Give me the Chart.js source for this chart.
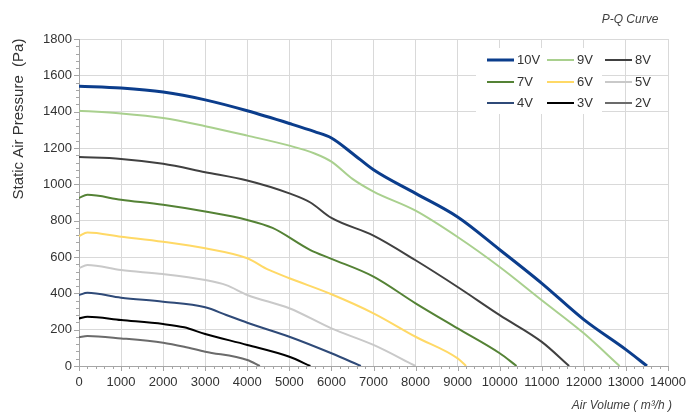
<!DOCTYPE html>
<html>
<head>
<meta charset="utf-8">
<script src="https://cdn.jsdelivr.net/npm/chart.js@4"></script>
<style>
  html, body { margin: 0; padding: 0; background: #fff; }
  #wrap { width: 700px; height: 420px; }
</style>
</head>
<body>
<div id="wrap"><canvas id="pq"></canvas></div>
<script>
// Air volume (m3/h) and static pressure (Pa) per speed setting
const q10 = [0, 1000, 2000, 3000, 4000, 5000, 5600, 6000, 6500, 7000, 8000, 9000, 10000, 11000, 12000, 13000, 13500];
const p10 = [1540, 1530, 1508, 1465, 1405, 1335, 1290, 1255, 1170, 1080, 950, 820, 640, 455, 255, 90, 0];
const q9 = [0, 1000, 2000, 3000, 4000, 5000, 5600, 6000, 6500, 7000, 8000, 9000, 10000, 11000, 12000, 12850];
const p9 = [1405, 1390, 1365, 1320, 1268, 1213, 1170, 1125, 1030, 960, 855, 710, 545, 362, 180, 0];
const q8 = [0, 1000, 2000, 3000, 4000, 5000, 5500, 6000, 7000, 8000, 9000, 10000, 11000, 11650];
const p8 = [1150, 1140, 1113, 1067, 1021, 950, 900, 815, 718, 582, 435, 280, 133, 0];
const q7 = [0, 200, 1000, 2000, 3000, 4000, 4600, 5500, 6000, 7000, 8000, 9000, 10000, 10400];
const p7 = [925, 942, 915, 887, 850, 804, 760, 638, 590, 492, 345, 207, 70, 0];
const q6 = [0, 200, 1000, 2000, 3000, 4000, 4500, 5000, 6000, 7000, 8000, 9000, 9200];
const p6 = [715, 735, 712, 684, 648, 593, 530, 483, 395, 290, 161, 42, 0];
const q5 = [0, 200, 1000, 2000, 3000, 3500, 4000, 5000, 6000, 7000, 8000];
const p5 = [538, 556, 528, 506, 473, 445, 391, 318, 207, 116, 0];
const q4 = [0, 200, 1000, 2000, 3000, 3500, 4000, 5000, 6000, 6700];
const p4 = [391, 403, 376, 354, 323, 281, 238, 161, 70, 0];
const q3 = [0, 200, 1000, 2000, 2500, 3000, 4000, 5000, 5500];
const p3 = [262, 271, 253, 231, 213, 176, 116, 51, 0];
const q2 = [0, 200, 1000, 2000, 2500, 3000, 4000, 4300];
const p2 = [158, 165, 152, 128, 106, 79, 33, 0];

const seriesNames = ['10V', '9V', '8V', '7V', '6V', '5V', '4V', '3V', '2V'];
const seriesQ = [q10, q9, q8, q7, q6, q5, q4, q3, q2];
const seriesP = [p10, p9, p8, p7, p6, p5, p4, p3, p2];
const seriesColors = ['#0b3d8c', '#a9d08e', '#404040', '#548235', '#ffd966', '#c9c9c9', '#2f4a78', '#000000', '#6b6b6b'];
const seriesWidths = [3, 2, 2, 2, 2, 2, 2, 2, 2];

const xTicksMax = 14000;
const yTicksMax = 1800;

const FONT = '"Liberation Sans", Arial, sans-serif';

const datasets = seriesNames.map((name, i) => ({
    label: name,
    data: seriesQ[i].map((q, j) => ({ x: q, y: seriesP[i][j] })),
    borderColor: seriesColors[i],
    borderWidth: seriesWidths[i],
    pointRadius: 0,
    fill: false,
    cubicInterpolationMode: 'monotone'
}));

// minor ticks, legend box and axis titles
const extras = {
    id: 'extras',
    afterDatasetsDraw(chart) {
        const c = chart.ctx;
        const xs = chart.scales.x, ys = chart.scales.y;
        const area = chart.chartArea;
        c.save();
        c.strokeStyle = '#a6a6a6';
        c.lineWidth = 1;
        c.beginPath();
        for (let v = 0; v <= xTicksMax; v += 200) {
            const px = Math.round(xs.getPixelForValue(v)) + 0.5;
            const len = v % 1000 === 0 ? 5 : 3;
            c.moveTo(px, area.bottom);
            c.lineTo(px, area.bottom + len);
        }
        for (let v = 0; v <= yTicksMax; v += 40) {
            const py = Math.round(ys.getPixelForValue(v)) + 0.5;
            const len = v % 200 === 0 ? 5 : 3;
            c.moveTo(area.left, py);
            c.lineTo(area.left - len, py);
        }
        c.stroke();

        // legend, 3 x 3 grid on a white box
        c.fillStyle = '#ffffff';
        c.fillRect(476, 48, 126, 66);
        const cols = [487, 547, 605];
        const rows = [60, 82, 103];
        c.font = '13px ' + FONT;
        c.textBaseline = 'middle';
        chart.data.datasets.forEach((ds, i) => {
            const x = cols[i % 3], y = rows[Math.floor(i / 3)];
            c.strokeStyle = ds.borderColor;
            c.lineWidth = ds.borderWidth;
            c.beginPath();
            c.moveTo(x, y);
            c.lineTo(x + 27, y);
            c.stroke();
            c.fillStyle = '#333333';
            c.textAlign = 'left';
            c.fillText(ds.label, x + 30, y);
        });

        // titles
        c.fillStyle = '#404040';
        c.font = 'italic 12px ' + FONT;
        c.textAlign = 'center';
        c.fillText('P-Q Curve', 630, 20);
        c.textAlign = 'right';
        c.fillText('Air Volume ( m\u00b3/h )', 672, 406);
        c.translate(19, 119);
        c.rotate(-Math.PI / 2);
        c.textAlign = 'center';
        c.fillStyle = '#333333';
        c.font = '15px ' + FONT;
        c.fillText('Static Air Pressure  (Pa)', 0, 0);
        c.restore();
    }
};

const ctx = document.getElementById('pq').getContext('2d');
new Chart(ctx, {
    type: 'line',
    data: { datasets: datasets },
    options: {
        responsive: true,
        maintainAspectRatio: false,
        animation: false,
        layout: { padding: { top: 39, right: 32, left: 0, bottom: 0 } },
        plugins: { legend: { display: false }, tooltip: { enabled: false } },
        scales: {
            x: {
                type: 'linear',
                min: 0,
                max: xTicksMax,
                afterFit: s => { s.height = 54; },
                ticks: { stepSize: 1000, color: '#333333', font: { family: FONT, size: 13 }, maxRotation: 0, padding: 9, callback: v => String(v) },
                grid: { color: '#d9d9d9', drawTicks: false },
                border: { color: '#a6a6a6' }
            },
            y: {
                min: 0,
                max: yTicksMax,
                afterFit: s => { s.width = 79; },
                ticks: { stepSize: 200, color: '#333333', font: { family: FONT, size: 13 }, padding: 7, callback: v => String(v) },
                grid: { color: '#d9d9d9', drawTicks: false },
                border: { color: '#a6a6a6' }
            }
        }
    },
    plugins: [extras]
});
</script>
</body>
</html>
